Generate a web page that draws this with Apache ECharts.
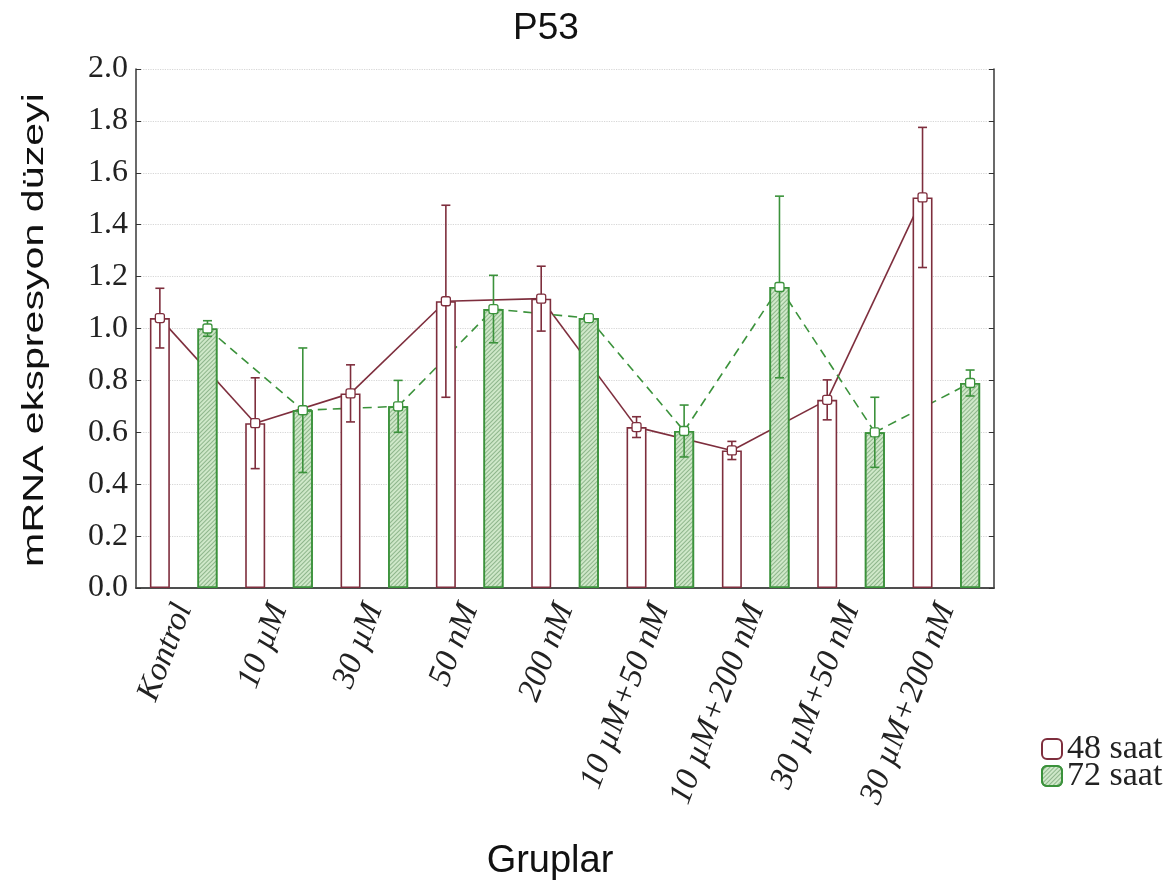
<!DOCTYPE html>
<html>
<head>
<meta charset="utf-8">
<script src="https://cdn.jsdelivr.net/npm/echarts@6/dist/echarts.min.js"></script>
<style>html,body{margin:0;padding:0;background:#fff;}#c{width:1174px;height:886px;}</style>
</head>
<body>
<div id="c"></div>
<script>
const categories = ['Kontrol', '10 µM', '30 µM', '50 nM', '200 nM', '10 µM+50 nM', '10 µM+200 nM', '30 µM+50 nM', '30 µM+200 nM'];
const mean48 = [1.04, 0.635, 0.75, 1.105, 1.115, 0.62, 0.53, 0.725, 1.505];
const err48  = [0.115, 0.175, 0.11, 0.37, 0.125, 0.04, 0.035, 0.077, 0.27];
const mean72 = [1.0, 0.685, 0.70, 1.075, 1.04, 0.605, 1.16, 0.60, 0.79];
const err72  = [0.03, 0.24, 0.10, 0.13, 0.01, 0.10, 0.35, 0.135, 0.05];
const seriesNames = ['48 saat', '72 saat'];
const yTicks = {min: 0, max: 2, interval: 0.2};

const C48 = '#7e2e3d';
const C72 = '#3b923b';
const BAR_W = 20;
const BAR_GAP = 1.38;
const OFF = BAR_W * (1 + BAR_GAP) / 2;

function errRender(sign, color) {
  return function (params, api) {
    const i = api.value(0), v = api.value(1), e = api.value(2);
    const c = api.coord([i, v]);
    const x = c[0] + sign * OFF;
    const top = api.coord([i, v + e])[1];
    const bot = api.coord([i, v - e])[1];
    const st = {stroke: color, lineWidth: 1.6};
    return {type: 'group', children: [
      {type: 'line', shape: {x1: x, y1: top, x2: x, y2: bot}, style: st},
      {type: 'line', shape: {x1: x - 4.5, y1: top, x2: x + 4.5, y2: top}, style: st},
      {type: 'line', shape: {x1: x - 4.5, y1: bot, x2: x + 4.5, y2: bot}, style: st},
      {type: 'rect', shape: {x: x - 4.5, y: c[1] - 4.5, width: 9, height: 9, r: 2}, style: {fill: '#fff', stroke: color, lineWidth: 1.3}}
    ]};
  };
}
function lineRender(sign, color, dash) {
  return function (params, api) {
    const i = api.value(0), v = api.value(1), nv = api.value(2);
    if (isNaN(nv)) return null;
    const a = api.coord([i, v]);
    const b = api.coord([i + 1, nv]);
    return {type: 'line', shape: {x1: a[0] + sign * OFF, y1: a[1], x2: b[0] + sign * OFF, y2: b[1]},
      style: {stroke: color, lineWidth: 1.6, lineDash: dash}};
  };
}
const lineData = (arr) => arr.map((v, i) => [i, v, i < arr.length - 1 ? arr[i + 1] : NaN]);
const errData = (arr, err) => arr.map((v, i) => [i, v, err[i]]);

const chart = echarts.init(document.getElementById('c'), null, {renderer: 'canvas'});
chart.setOption({
  backgroundColor: '#fff',
  animation: false,
  title: {text: 'P53', left: 508, top: 5, textStyle: {fontFamily: 'Liberation Sans', fontSize: 37, fontWeight: 'normal', color: '#111'}},
  legend: {
    orient: 'vertical', left: 1036, top: 727, itemWidth: 20, itemHeight: 20, itemGap: -7,
    data: seriesNames,
    textStyle: {fontFamily: 'Liberation Serif', fontSize: 34, color: '#222', padding: [0, 0, 0, 0]}
  },
  grid: {left: 136, right: 180, top: 69, bottom: 298, containLabel: false},
  xAxis: [{
    type: 'category', data: categories, position: 'bottom',
    axisLine: {lineStyle: {color: '#444', width: 1.6}},
    axisTick: {inside: true, alignWithLabel: true, length: 5, lineStyle: {color: '#333'}},
    axisLabel: {rotate: 69, margin: 17, interval: 0, fontFamily: 'Liberation Serif', fontStyle: 'italic', fontSize: 33, color: '#222'}
  }, {
    type: 'category', data: categories, position: 'top',
    axisLine: {lineStyle: {color: '#444', width: 1.6}},
    axisTick: {inside: true, alignWithLabel: true, length: 5, lineStyle: {color: '#333'}},
    axisLabel: {show: false}
  }],
  yAxis: [{
    type: 'value', min: yTicks.min, max: yTicks.max, interval: yTicks.interval,
    axisLine: {show: true, lineStyle: {color: '#444', width: 1.6}},
    axisTick: {show: true, inside: true, length: 5, lineStyle: {color: '#333'}},
    axisLabel: {formatter: v => v.toFixed(1), margin: 8, fontFamily: 'Liberation Serif', fontSize: 32, color: '#222'},
    splitLine: {show: true, lineStyle: {color: '#d6d6d6', type: 'dotted', width: 1.2}}
  }, {
    type: 'value', min: yTicks.min, max: yTicks.max, interval: yTicks.interval, position: 'right',
    axisLine: {show: true, lineStyle: {color: '#444', width: 1.6}},
    axisTick: {show: true, inside: true, length: 5, lineStyle: {color: '#333'}},
    axisLabel: {show: false}, splitLine: {show: false}
  }],
  graphic: [
    {type: 'text', x: 35, y: 330, rotation: Math.PI / 2, scaleX: 1.42, z: 10,
      style: {text: 'mRNA ekspresyon düzeyi', fontFamily: 'Liberation Sans', fontSize: 29, fill: '#111', align: 'center', verticalAlign: 'middle'}},
    {type: 'text', x: 550, y: 862, z: 10,
      style: {text: 'Gruplar', fontFamily: 'Liberation Sans', fontSize: 38, fill: '#111', align: 'center', verticalAlign: 'middle'}}
  ],
  series: [
    {type: 'custom', name: 'l48', renderItem: lineRender(-1, C48, null), data: lineData(mean48), encode: {x: 0, y: 1}, z: 1, silent: true},
    {type: 'custom', name: 'l72', renderItem: lineRender(1, C72, [9, 6]), data: lineData(mean72), encode: {x: 0, y: 1}, z: 1, silent: true},
    {type: 'bar', name: seriesNames[0], data: mean48, barWidth: BAR_W, barGap: (BAR_GAP * 100) + '%', z: 2,
      itemStyle: {color: '#ffffff', borderColor: C48, borderWidth: 1.6}},
    {type: 'bar', name: seriesNames[1], data: mean72, barWidth: BAR_W, z: 2,
      itemStyle: {color: '#cfe8c9', borderColor: C72, borderWidth: 1.6,
        decal: {symbol: 'rect', symbolSize: 1, dashArrayX: [[1, 0]], dashArrayY: [1, 2], rotation: -Math.PI / 4, color: 'rgba(90,140,90,0.55)'}}},
    {type: 'custom', name: 'e48', renderItem: errRender(-1, C48), data: errData(mean48, err48), encode: {x: 0, y: 1}, z: 5, silent: true},
    {type: 'custom', name: 'e72', renderItem: errRender(1, C72), data: errData(mean72, err72), encode: {x: 0, y: 1}, z: 5, silent: true}
  ]
});
</script>
</body>
</html>
